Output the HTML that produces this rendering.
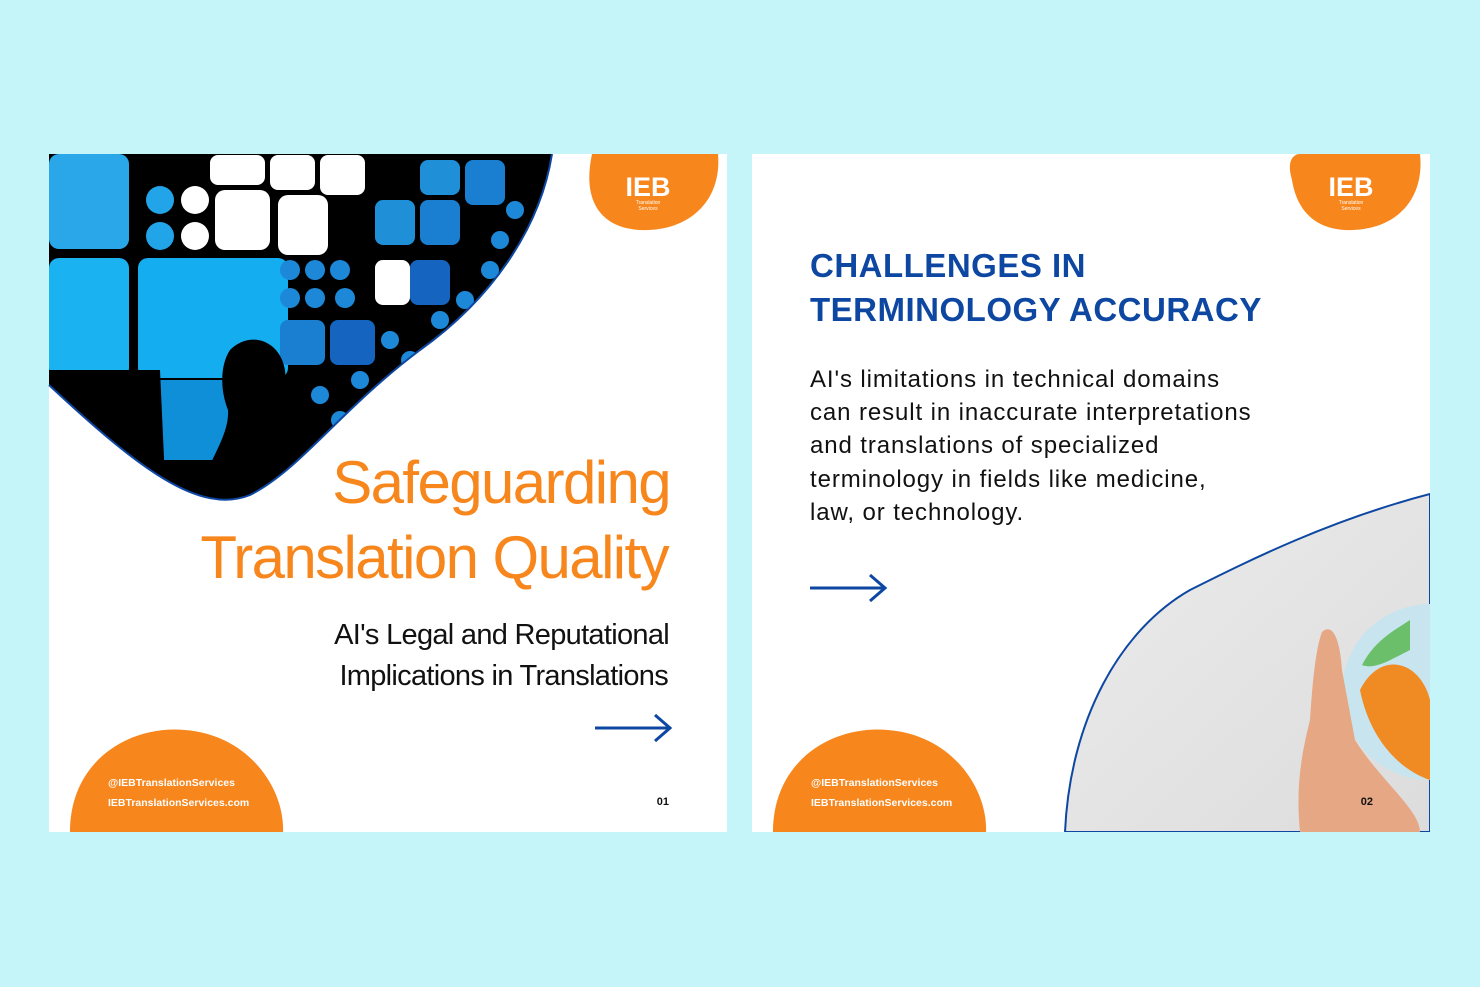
<!DOCTYPE html>
<html><head><meta charset="utf-8"><style>
html,body{margin:0;padding:0;background:#c5f4f9;}
body{width:1480px;height:987px;overflow:hidden;position:relative;font-family:"Liberation Sans",sans-serif;}
svg{position:absolute;left:0;top:0}
</style></head><body>
<svg width="1480" height="987" viewBox="0 0 1480 987">
<defs>
<clipPath id="c1"><rect x="49" y="154" width="678" height="678"/></clipPath>
<clipPath id="c2"><rect x="752" y="154" width="678" height="678"/></clipPath>
<clipPath id="blobL"><path d="M49,154 L552,154 C540,230 490,300 420,350 C340,410 300,470 250,495 C200,515 140,470 49,385 Z"/></clipPath>
<linearGradient id="gr" x1="0" y1="0" x2="1" y2="1"><stop offset="0" stop-color="#ececec"/><stop offset="1" stop-color="#dcdcdc"/></linearGradient>
</defs>
<g>
<rect x="49" y="154" width="678" height="678" fill="#fff"/>
<g clip-path="url(#blobL)">
<rect x="49" y="154" width="510" height="360" fill="#000"/>
<rect x="49" y="154" width="80" height="95" rx="10" fill="#2aa7e8"/>
<rect x="49" y="258" width="80" height="120" rx="10" fill="#1ab2f0"/>
<rect x="138" y="258" width="150" height="120" rx="10" fill="#14aef0"/>
<rect x="160" y="380" width="110" height="80" fill="#0f8fd8"/>
<circle cx="160" cy="200" r="14" fill="#22a4e8"/><circle cx="195" cy="200" r="14" fill="#fff"/>
<circle cx="160" cy="236" r="14" fill="#22a4e8"/><circle cx="195" cy="236" r="14" fill="#fff"/>
<rect x="215" y="190" width="55" height="60" rx="10" fill="#fff"/>
<rect x="278" y="195" width="50" height="60" rx="10" fill="#fff"/>
<rect x="210" y="155" width="55" height="30" rx="8" fill="#fff"/>
<rect x="270" y="155" width="45" height="35" rx="8" fill="#fff"/>
<rect x="320" y="155" width="45" height="40" rx="8" fill="#fff"/>
<rect x="375" y="200" width="40" height="45" rx="8" fill="#1f8fd8"/>
<rect x="420" y="200" width="40" height="45" rx="8" fill="#1a7fd0"/>
<rect x="465" y="160" width="40" height="45" rx="8" fill="#1a7fd0"/>
<rect x="420" y="160" width="40" height="35" rx="8" fill="#1f8fd8"/>
<rect x="375" y="260" width="35" height="45" rx="8" fill="#fff"/>
<rect x="410" y="260" width="40" height="45" rx="8" fill="#1565c0"/>
<rect x="280" y="320" width="45" height="45" rx="8" fill="#1a7fd0"/>
<rect x="330" y="320" width="45" height="45" rx="8" fill="#1565c0"/>
<g fill="#1d88d8">
<circle cx="290" cy="270" r="10"/><circle cx="315" cy="270" r="10"/><circle cx="340" cy="270" r="10"/><circle cx="290" cy="298" r="10"/><circle cx="315" cy="298" r="10"/><circle cx="345" cy="298" r="10"/>
<circle cx="440" cy="320" r="9"/><circle cx="465" cy="300" r="9"/><circle cx="490" cy="270" r="9"/><circle cx="500" cy="240" r="9"/><circle cx="515" cy="210" r="9"/>
<circle cx="390" cy="340" r="9"/><circle cx="410" cy="360" r="9"/><circle cx="360" cy="380" r="9"/><circle cx="320" cy="395" r="9"/><circle cx="340" cy="420" r="9"/>
</g>
<path d="M49,370 L160,370 L165,480 L49,480 Z" fill="#000"/>
<path d="M230,350 C250,330 280,340 285,370 C288,395 270,410 285,430 L330,460 L330,520 L190,520 C200,470 230,440 228,410 C220,390 220,365 230,350 Z" fill="#000"/>
</g>
<path d="M552,154 C540,230 490,300 420,350 C340,410 300,470 250,495 C200,515 140,470 49,385" fill="none" stroke="#0d47a1" stroke-width="2"/>
<g clip-path="url(#c1)">
<path d="M592,154 L718,154 C722,200 690,232 640,230 C600,228 582,200 592,154 Z" fill="#f7861c"/>
<path d="M70,832 C70,760 130,725 185,730 C250,735 285,790 283,832 Z" fill="#f7861c"/>
</g>
<text x="648" y="196" font-size="27" font-weight="bold" fill="#fff" text-anchor="middle">IEB</text>
<text x="648" y="204" font-size="5" fill="#fff" text-anchor="middle">Translation</text>
<text x="648" y="210" font-size="5" fill="#fff" text-anchor="middle">Services</text>
<text x="670" y="503" font-size="60" fill="#f7861c" text-anchor="end" letter-spacing="-1.6">Safeguarding</text>
<text x="668" y="578" font-size="60" fill="#f7861c" text-anchor="end" letter-spacing="-1.6">Translation Quality</text>
<text x="669" y="644" font-size="29" fill="#111" text-anchor="end" letter-spacing="-0.7">AI's Legal and Reputational</text>
<text x="668" y="685" font-size="29" fill="#111" text-anchor="end" letter-spacing="-0.7">Implications in Translations</text>
<g stroke="#0d47a1" stroke-width="3" fill="none"><path d="M595,728 H669"/><path d="M655,715 L670,728 L655,741"/></g>
<text x="108" y="786" font-size="10.5" font-weight="bold" fill="#fff">@IEBTranslationServices</text>
<text x="108" y="806" font-size="10.5" font-weight="bold" fill="#fff">IEBTranslationServices.com</text>
<text x="669" y="805" font-size="11" font-weight="bold" fill="#111" text-anchor="end">01</text>
</g>
<g>
<rect x="752" y="154" width="678" height="678" fill="#fff"/>
<g clip-path="url(#c2)">
<path d="M1430,494 C1330,520 1250,560 1190,590 C1120,630 1070,720 1065,832 L1430,832 Z" fill="url(#gr)" stroke="#0d47a1" stroke-width="2"/>
<circle cx="1430" cy="692" r="88" fill="#c8e4ee"/>
<path d="M1360,690 C1380,650 1420,660 1430,700 L1430,780 C1400,770 1370,740 1360,690Z" fill="#f08a22"/>
<path d="M1362,665 C1375,640 1395,630 1410,620 L1410,650 C1390,660 1375,670 1362,665Z" fill="#6bbf6b"/>
<path d="M1322,632 C1333,622 1340,640 1342,670 L1355,740 C1380,780 1420,810 1420,832 L1300,832 C1296,790 1300,760 1310,720 C1312,690 1315,650 1322,632 Z" fill="#e6a884"/>
<path d="M1292,180 C1286,160 1294,154 1300,154 L1420,154 C1425,200 1395,232 1345,230 C1310,228 1296,205 1292,180Z" fill="#f7861c"/>
<path d="M773,832 C773,760 833,725 888,730 C953,735 988,790 986,832 Z" fill="#f7861c"/>
</g>
<text x="1351" y="196" font-size="27" font-weight="bold" fill="#fff" text-anchor="middle">IEB</text>
<text x="1351" y="204" font-size="5" fill="#fff" text-anchor="middle">Translation</text>
<text x="1351" y="210" font-size="5" fill="#fff" text-anchor="middle">Services</text>
<text x="810" y="277" font-size="33" font-weight="bold" fill="#0d47a1" letter-spacing="0.5">CHALLENGES IN</text>
<text x="810" y="321" font-size="33" font-weight="bold" fill="#0d47a1" letter-spacing="0.5">TERMINOLOGY ACCURACY</text>
<g font-size="24" fill="#111" letter-spacing="0.9">
<text x="810" y="387">AI's limitations in technical domains</text>
<text x="810" y="420">can result in inaccurate interpretations</text>
<text x="810" y="453">and translations of specialized</text>
<text x="810" y="487">terminology in fields like medicine,</text>
<text x="810" y="520">law, or technology.</text>
</g>
<g stroke="#0d47a1" stroke-width="3" fill="none"><path d="M810,588 H884"/><path d="M870,575 L885,588 L870,601"/></g>
<text x="811" y="786" font-size="10.5" font-weight="bold" fill="#fff">@IEBTranslationServices</text>
<text x="811" y="806" font-size="10.5" font-weight="bold" fill="#fff">IEBTranslationServices.com</text>
<text x="1373" y="805" font-size="11" font-weight="bold" fill="#111" text-anchor="end">02</text>
</g>
</svg>
</body></html>
